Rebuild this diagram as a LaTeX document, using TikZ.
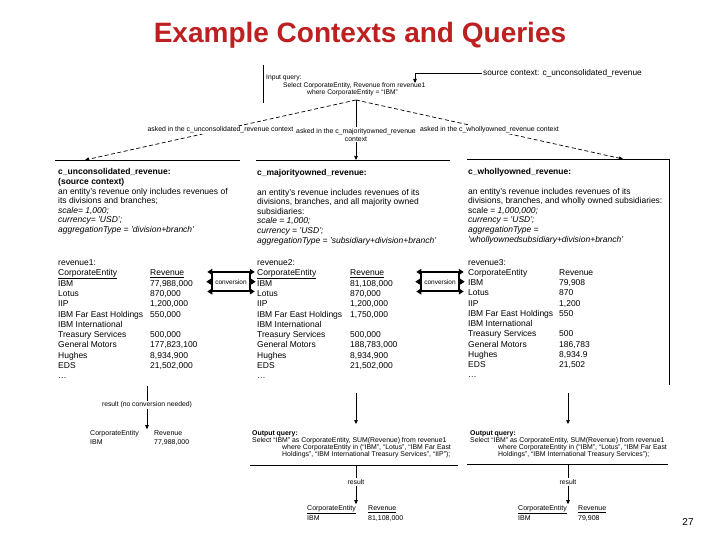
\documentclass[tikz,border=0pt]{standalone}
\usepackage{fontspec}
\setmainfont{Liberation Sans}
\usetikzlibrary{arrows.meta,positioning,calc}
\definecolor{titlered}{RGB}{188,32,32}

\begin{document}
\begin{tikzpicture}[x=1pt, y=-1pt, >={Triangle[length=4pt,width=3.5pt]},
  boxline/.style={line width=0.8pt},
  askline/.style={dash pattern=on 4pt off 2.5pt, line width=0.7pt},
  ctxtext/.style={anchor=north west, inner sep=0pt, align=left, font=\fontsize{8.5}{9.6}\selectfont},
  tbltext/.style={anchor=north west, inner sep=0pt, font=\fontsize{8.5}{10.25}\selectfont},
  asklabel/.style={fill=white, inner sep=1pt, align=center, font=\fontsize{6.9}{8}\selectfont},
  qrytext/.style={anchor=north west, inner sep=0pt, align=left, font=\fontsize{6.9}{7}\selectfont},
  smalllabel/.style={fill=white, inner sep=1pt, font=\fontsize{6.8}{8}\selectfont},
  restext/.style={anchor=north west, inner sep=0pt, font=\fontsize{7}{9}\selectfont},
  convbox/.style={draw, line width=1.5pt, fill=white, inner xsep=2pt, inner ysep=0pt,
    minimum width=38pt, minimum height=18pt, font=\fontsize{6.5}{7}\selectfont},
  convarrow/.style={line width=1.5pt, {Triangle[length=5pt,width=6pt]}-{Triangle[length=5pt,width=6pt]}},
  convtip/.style={line width=1.5pt, -{Triangle[length=5pt,width=6pt]}}]
  \useasboundingbox (0,0) rectangle (720,540);
  \fill[white] (0,0) rectangle (720,540);

  % title and page number
  \node[text=titlered, font=\fontsize{28}{30}\bfseries] (title) at (360,35) {Example Contexts and Queries};
  \node[font=\fontsize{10}{12}\selectfont] (pagenum) at (688,522) {27};

  % input query and its source context
  \draw (263,65) -- (263,103);
  \node[anchor=north west, inner sep=0pt, align=left, font=\fontsize{6.7}{7.8}\selectfont] (inq) at (266,74.5)
    {Input query:\\
     \hspace*{17pt}Select CorporateEntity, Revenue from revenue1\\
     \hspace*{41pt}where CorporateEntity = ``IBM''};
  \node[anchor=west, inner sep=1pt, font=\fontsize{8.3}{10}\selectfont] (src) at (482,73.5)
    {source context: c\_unconsolidated\_revenue};
  \coordinate (srcend) at (415,83);
  \draw[->] (src.west) -| (srcend);

  % the query asked in three contexts
  \coordinate (apex) at (356,100);
  \coordinate (top1) at (85,160);
  \coordinate (top2) at (356,160);
  \coordinate (top3) at (623,159);
  \draw[askline,->] (apex) -- node[asklabel]{asked in the c\_unconsolidated\_revenue context} (top1);
  \draw[line width=0.7pt,->] (apex) -- node[asklabel, pos=0.58]{asked in the c\_majorityowned\_revenue\\context} (top2);
  \draw[askline,->] (apex) -- node[asklabel]{asked in the c\_whollyowned\_revenue context} (top3);

  % context boxes
  \draw[boxline] (55,160) -- (240,160);
  \draw[boxline] (256,160) -- (450,160);
  \draw[boxline] (467,159) -- (669,159) -- (669,385);

  \node[ctxtext] (ctx1) at (58,168.5)
    {\textbf{c\_unconsolidated\_revenue:}\\
     \textbf{(source context)}\\
     an entity's revenue only includes revenues of\\
     its divisions and branches;\\
     \textit{scale= 1,000;}\\
     \textit{currency= 'USD';}\\
     \textit{aggregationType = 'division+branch'}};
  \node[ctxtext] (ctx2) at (257,169.5)
    {\textbf{c\_majorityowned\_revenue:}\\[9.6pt]
     an entity's revenue includes revenues of its\\
     divisions, branches, and all majority owned\\
     subsidiaries:\\
     \textit{scale = 1,000;}\\
     \textit{currency = 'USD';}\\
     \textit{aggregationType = 'subsidiary+division+branch'}};
  \node[ctxtext] (ctx3) at (468,168.5)
    {\textbf{c\_whollyowned\_revenue:}\\[9.6pt]
     an entity's revenue includes revenues of its\\
     divisions, branches, and wholly owned subsidiaries:\\
     scale = \textit{1,000,000;}\\
     \textit{currency = 'USD';}\\
     \textit{aggregationType =}\\
     \textit{'whollyownedsubsidiary+division+branch'}};

  % revenue tables
  \node[tbltext] (rev1) at (58,257.8) {\begin{tabular}{@{}p{92pt}@{}l@{}}
    revenue1: & \\
    \underline{CorporateEntity} & \underline{Revenue}\\
    IBM & 77,988,000\\
    Lotus & 870,000\\
    IIP & 1,200,000\\
    IBM Far East Holdings & 550,000\\
    IBM International & \\
    Treasury Services & 500,000\\
    General Motors & 177,823,100\\
    Hughes & 8,934,900\\
    EDS & 21,502,000\\
    \dots & \\
  \end{tabular}};
  \node[tbltext] (rev2) at (257,257.8) {\begin{tabular}{@{}p{93pt}@{}l@{}}
    revenue2: & \\
    \underline{CorporateEntity} & \underline{Revenue}\\
    IBM & 81,108,000\\
    Lotus & 870,000\\
    IIP & 1,200,000\\
    IBM Far East Holdings & 1,750,000\\
    IBM International & \\
    Treasury Services & 500,000\\
    General Motors & 188,783,000\\
    Hughes & 8,934,900\\
    EDS & 21,502,000\\
    \dots & \\
  \end{tabular}};
  \node[tbltext] (rev3) at (468,257.8) {\begin{tabular}{@{}p{91pt}@{}l@{}}
    revenue3: & \\
    CorporateEntity & Revenue\\
    IBM & 79,908\\
    Lotus & 870\\
    IIP & 1,200\\
    IBM Far East Holdings & 550\\
    IBM International & \\
    Treasury Services & 500\\
    General Motors & 186,783\\
    Hughes & 8,934.9\\
    EDS & 21,502\\
    \dots & \\
  \end{tabular}};

  % conversions between the tables
  \node[convbox] (conv1) at (231,281.7) {conversion};
  \node[convbox] (conv2) at (440,281.7) {conversion};
  \foreach \c in {conv1,conv2} {
    \draw[convarrow] ([xshift=-4pt]\c.north west) -- ([xshift=4pt]\c.north east);
    \draw[convarrow] ([xshift=-4pt]\c.south west) -- ([xshift=4pt]\c.south east);
    \draw[convtip] (\c.west) -- ([xshift=-5pt]\c.west);
    \draw[convtip] (\c.east) -- ([xshift=5pt]\c.east);
  }

  % left: result without conversion
  \coordinate (bot1) at (147,386);
  \node[smalllabel] (res1) at (147,405) {result (no conversion needed)};
  \node[restext] (out1) at (90,429.2) {\begin{tabular}{@{}p{64pt}@{}l@{}}
    CorporateEntity & Revenue\\
    IBM & 77,988,000\\
  \end{tabular}};
  \draw[line width=0.7pt] (bot1) -- (res1);
  \draw[line width=0.7pt,->] (res1) -- (res1 |- out1.north);

  % middle: output query and result
  \coordinate (bot2) at (356,393);
  \coordinate (qtop2) at (356,424);
  \draw[line width=0.7pt,->] (bot2) -- (qtop2);
  \node[qrytext] (oq2) at (252,430)
    {\textbf{Output query:}\\
     Select ``IBM'' as CorporateEntity, SUM(Revenue) from revenue1\\
     \hspace*{30pt}where CorporateEntity in (``IBM'', ``Lotus'', ``IBM Far East\\
     \hspace*{30pt}Holdings'', ``IBM International Treasury Services'', ``IIP'');};
  \draw[boxline] (250,465) -- (458,465);
  \coordinate (qbot2) at (356,465);
  \node[smalllabel] (res2) at (356,482) {result};
  \node[restext] (out2) at (307,504.2) {\begin{tabular}{@{}p{61pt}@{}l@{}}
    \underline{CorporateEntity} & \underline{Revenue}\\
    IBM & 81,108,000\\
  \end{tabular}};
  \draw[line width=0.7pt] (qbot2) -- (res2);
  \draw[line width=0.7pt,->] (res2) -- (res2 |- out2.north);

  % right: output query and result
  \coordinate (bot3) at (568,393);
  \coordinate (qtop3) at (568,424);
  \draw[line width=0.7pt,->] (bot3) -- (qtop3);
  \node[qrytext] (oq3) at (470,430)
    {\textbf{Output query:}\\
     Select ``IBM'' as CorporateEntity, SUM(Revenue) from revenue1\\
     \hspace*{28pt}where CorporateEntity in (``IBM'', ``Lotus'', ``IBM Far East\\
     \hspace*{28pt}Holdings'', ``IBM International Treasury Services'');};
  \draw[boxline] (467,464) -- (668,464);
  \coordinate (qbot3) at (568,464);
  \node[smalllabel] (res3) at (568,482) {result};
  \node[restext] (out3) at (518,504.2) {\begin{tabular}{@{}p{60pt}@{}l@{}}
    \underline{CorporateEntity} & \underline{Revenue}\\
    IBM & 79,908\\
  \end{tabular}};
  \draw[line width=0.7pt] (qbot3) -- (res3);
  \draw[line width=0.7pt,->] (res3) -- (res3 |- out3.north);
\end{tikzpicture}
\end{document}
